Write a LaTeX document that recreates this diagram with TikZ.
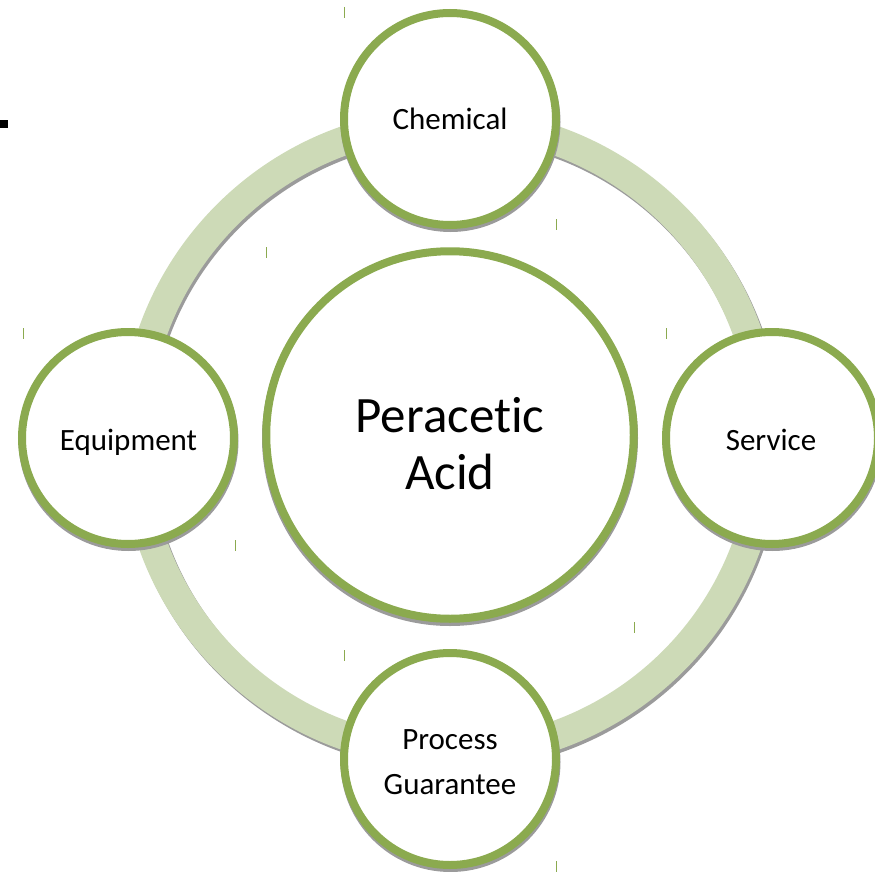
\documentclass[tikz,border=0pt]{standalone}
\usepackage{fontspec}
\setmainfont{Carlito}[Ligatures={NoCommon,NoContextual},Contextuals={NoAlternate}]
\definecolor{leaf}{RGB}{139,170,79}
\definecolor{band}{RGB}{205,218,183}
\definecolor{dropgrey}{RGB}{155,155,155}
\begin{document}
\begin{tikzpicture}[x=1pt,y=-1pt,
  disc/.style={draw=leaf,line width=8pt,fill=white,circle,inner sep=0pt,outer sep=0pt},
  shadowdisc/.style={fill=dropgrey,circle,inner sep=0pt,outer sep=0pt},
  smalltext/.style={font=\fontsize{31}{45}\selectfont,inner sep=0pt},
  bigtext/.style={font=\fontsize{51}{56.5}\selectfont,inner sep=0pt},
  handle/.style={draw=leaf,line width=1.2pt}]
\useasboundingbox (0,0) rectangle (875,872);

% hub of the ring
\coordinate (hub) at (450,438);

% ring with its drop shadow
\draw[dropgrey,line width=29pt] ([shift={(2,3)}]hub) circle[radius=315.5];
\draw[band,line width=29pt] (hub) circle[radius=315.5];

% small marker at the left edge
\fill[black] (0,120) rectangle (8,128);

% centre circle
\node[shadowdisc,minimum size=376pt] (pacshadow) at (450,438) {};
\node[disc,minimum size=367.5pt] (pac) at (450,435) {};
\node[bigtext,align=center] (pactext) at (450,443.4) {Peracetic\\Acid};

% satellites: shadows
\node[shadowdisc,minimum size=220pt] (chemshadow) at (450.5,122) {};
\node[shadowdisc,minimum size=220pt] (equipshadow) at (128.5,441) {};
\node[shadowdisc,minimum size=220pt] (servshadow) at (772.5,441) {};
\node[shadowdisc,minimum size=220pt] (procshadow) at (450.5,762) {};

% satellites
\node[disc,minimum size=212pt] (chem) at (450,119) {};
\node[disc,minimum size=212pt] (equip) at (128,438) {};
\node[disc,minimum size=212pt] (serv) at (772,438) {};
\node[disc,minimum size=212pt] (proc) at (450,759) {};

\node[smalltext,anchor=base] (chemtext) at (450,129) {Chemical};
\node[smalltext,anchor=base] (equiptext) at (128.5,450) {Equipment};
\node[smalltext,anchor=base] (servtext) at (771,450) {Service};
\node[smalltext,align=center] (proctext) at (450,762) {Process\\Guarantee};

% corner handles left at the circles' bounding boxes
\draw[handle] (344.5,7) -- (344.5,18);
\draw[handle] (556.5,219) -- (556.5,230);
\draw[handle] (266.5,247) -- (266.5,258);
\draw[handle] (634.5,622) -- (634.5,633);
\draw[handle] (23.5,328) -- (23.5,339);
\draw[handle] (235.5,540) -- (235.5,551);
\draw[handle] (666.5,328) -- (666.5,339);
\draw[handle] (344.5,650) -- (344.5,661);
\draw[handle] (556.5,861) -- (556.5,872);
\end{tikzpicture}
\end{document}
